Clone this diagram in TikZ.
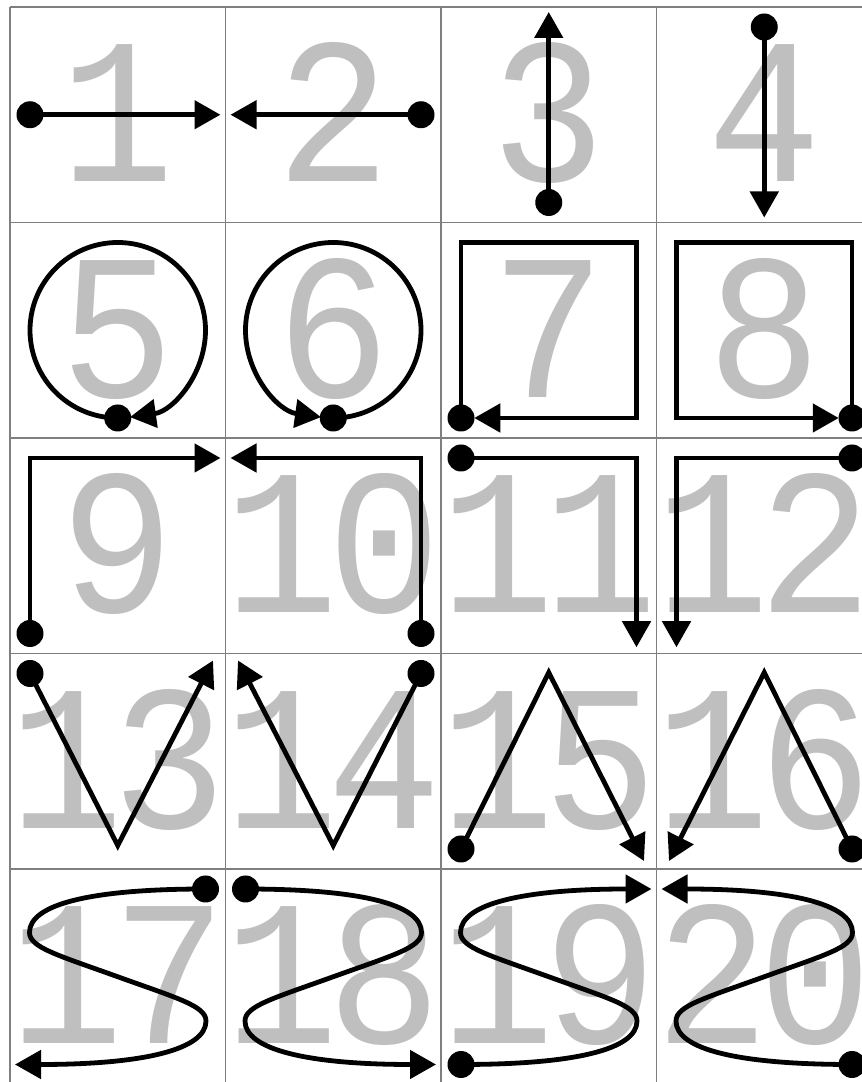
\documentclass[tikz,border=0pt]{standalone}
\usepackage{fontspec}
\usepackage{graphicx}
\newfontfamily\digitfont{Liberation Mono}
\usetikzlibrary{arrows.meta}
\definecolor{numgray}{HTML}{BFBFBF}
\definecolor{gridgray}{HTML}{7F7F7F}
\newcommand\bignum[1]{\scalebox{1}[1.094]{#1}}
\begin{document}
\begin{tikzpicture}[x=1pt,y=1pt,
  stroke/.style={line width=4.8pt, black, line join=miter},
  arr/.style={stroke, -{Triangle[length=26pt,width=28pt]}},
  dot/.style={circle, fill=black, draw=none, inner sep=0pt, minimum size=27pt},
  num/.style={text=numgray, font=\digitfont\fontsize{190}{190}\selectfont, inner sep=0pt, anchor=base},
  gridline/.style={draw=gridgray, line width=1.5pt}]
\useasboundingbox (0,0) rectangle (862,1082);
\clip (0,0) rectangle (862,1082);
\fill[white] (0,0) rectangle (862,1082);
% ---- numbers ----
\foreach \n/\t/\cx/\cy in {1/1/117.75/967.25, 2/2/333.25/967.25, 3/3/548.75/967.25, 4/4/764.25/967.25,
  5/5/117.75/751.75, 6/6/333.25/751.75, 7/7/548.75/751.75, 8/8/764.25/751.75,
  9/9/117.75/536.25, 10/1\kern-11pt 0/333.25/536.25, 11/1\kern-11pt 1/548.75/536.25, 12/1\kern-11pt 2/764.25/536.25,
  13/1\kern-11pt 3/117.75/320.75, 14/1\kern-11pt 4/333.25/320.75, 15/1\kern-11pt 5/548.75/320.75, 16/1\kern-11pt 6/764.25/320.75,
  17/1\kern-11pt 7/117.75/105.25, 18/1\kern-11pt 8/333.25/105.25, 19/1\kern-11pt 9/548.75/105.25, 20/2\kern-11pt 0/764.25/105.25}{
  \begin{scope}[shift={(\cx,\cy)}]
    \clip (-107.75,-107.75) rectangle (107.75,107.75);
    \node[num] (n\n) at (0,-67.25) {\bignum{\t}};
  \end{scope}
}
% ---- grid ----
\foreach \x in {10,225.5,441,656.5}{\draw[gridline] (\x,-5) -- (\x,1075);}
\foreach \y in {1075,859.5,644,428.5,213}{\draw[gridline] (10,\y) -- (870,\y);}
% ---- cell 1 ----
\begin{scope}[shift={(117.75,967.25)}]
  \node[dot] (d1) at (-87.75,0) {};
  \coordinate (e1) at (102.75,0);
  \draw[arr] (d1.center) -- (e1);
\end{scope}
% ---- cell 2 ----
\begin{scope}[shift={(333.25,967.25)}]
  \node[dot] (d2) at (87.75,0) {};
  \coordinate (e2) at (-102.75,0);
  \draw[arr] (d2.center) -- (e2);
\end{scope}
% ---- cell 3 ----
\begin{scope}[shift={(548.75,967.25)}]
  \node[dot] (d3) at (0,-87.75) {};
  \coordinate (e3) at (0,102.75);
  \draw[arr] (d3.center) -- (e3);
\end{scope}
% ---- cell 4 ----
\begin{scope}[shift={(764.25,967.25)}]
  \node[dot] (d4) at (0,87.75) {};
  \coordinate (e4) at (0,-102.75);
  \draw[arr] (d4.center) -- (e4);
\end{scope}
% ---- cell 5 ----
\begin{scope}[shift={(117.75,751.75)}]
  \node[dot] (d5) at (0,-87.75) {};
  \draw[arr] (d5.center) arc[start angle=270, end angle=-82, radius=87.75];
\end{scope}
% ---- cell 6 ----
\begin{scope}[shift={(333.25,751.75)}]
  \node[dot] (d6) at (0,-87.75) {};
  \draw[arr] (d6.center) arc[start angle=-90, end angle=262, radius=87.75];
\end{scope}
% ---- cell 7 ----
\begin{scope}[shift={(548.75,751.75)}]
  \node[dot] (d7) at (-87.75,-87.75) {};
  \coordinate (e7) at (-74.5,-87.75);
  \draw[arr] (d7.center) -- (-87.75,87.75) -- (87.75,87.75) -- (87.75,-87.75) -- (e7);
\end{scope}
% ---- cell 8 ----
\begin{scope}[shift={(764.25,751.75)}]
  \node[dot] (d8) at (87.75,-87.75) {};
  \coordinate (e8) at (74.5,-87.75);
  \draw[arr] (d8.center) -- (87.75,87.75) -- (-87.75,87.75) -- (-87.75,-87.75) -- (e8);
\end{scope}
% ---- cell 9 ----
\begin{scope}[shift={(117.75,536.25)}]
  \node[dot] (d9) at (-87.75,-87.75) {};
  \coordinate (e9) at (102.75,87.75);
  \draw[arr] (d9.center) |- (e9);
\end{scope}
% ---- cell 10 ----
\begin{scope}[shift={(333.25,536.25)}]
  \node[dot] (d10) at (87.75,-87.75) {};
  \coordinate (e10) at (-102.75,87.75);
  \draw[arr] (d10.center) |- (e10);
\end{scope}
% ---- cell 11 ----
\begin{scope}[shift={(548.75,536.25)}]
  \node[dot] (d11) at (-87.75,87.75) {};
  \coordinate (e11) at (87.75,-101.5);
  \draw[arr] (d11.center) -| (e11);
\end{scope}
% ---- cell 12 ----
\begin{scope}[shift={(764.25,536.25)}]
  \node[dot] (d12) at (87.75,87.75) {};
  \coordinate (e12) at (-87.75,-101.5);
  \draw[arr] (d12.center) -| (e12);
\end{scope}
% ---- cell 13 ----
\begin{scope}[shift={(117.75,320.75)}]
  \node[dot] (d13) at (-87.75,87.75) {};
  \coordinate (e13) at (95.25,100.75);
  \draw[arr] (d13.center) -- (0,-84.25) -- (e13);
\end{scope}
% ---- cell 14 ----
\begin{scope}[shift={(333.25,320.75)}]
  \node[dot] (d14) at (87.75,87.75) {};
  \coordinate (e14) at (-95.25,100.75);
  \draw[arr] (d14.center) -- (0,-84.25) -- (e14);
\end{scope}
% ---- cell 15 ----
\begin{scope}[shift={(548.75,320.75)}]
  \node[dot] (d15) at (-87.75,-87.75) {};
  \coordinate (e15) at (95.25,-99.75);
  \draw[arr] (d15.center) -- (0,88.75) -- (e15);
\end{scope}
% ---- cell 16 ----
\begin{scope}[shift={(764.25,320.75)}]
  \node[dot] (d16) at (87.75,-87.75) {};
  \coordinate (e16) at (-95.25,-99.75);
  \draw[arr] (d16.center) -- (0,88.75) -- (e16);
\end{scope}
% ---- cells 17-20 (S curves) ----
\foreach \n/\cx/\sx/\sy in {17/117.75/1/1, 18/333.25/-1/1, 19/548.75/-1/-1, 20/764.25/1/-1}{
  \begin{scope}[shift={(\cx,105.25)}, xscale=\sx, yscale=\sy]
    \node[dot] (d\n) at (87.75,87.75) {};
    \coordinate (e\n) at (-102.75,-87.75);
    \draw[arr] (d\n.center) .. controls (-26.65,87.75) and (-88.25,72.55) .. (-88.25,44.25)
      .. controls (-88.25,29.25) and (-60,21.6) .. (0,0)
      .. controls (60,-21.6) and (88.25,-29.25) .. (88.25,-44.25)
      .. controls (88.25,-72.55) and (26.65,-87.75) .. (e\n);
  \end{scope}
}
\end{tikzpicture}
\end{document}
